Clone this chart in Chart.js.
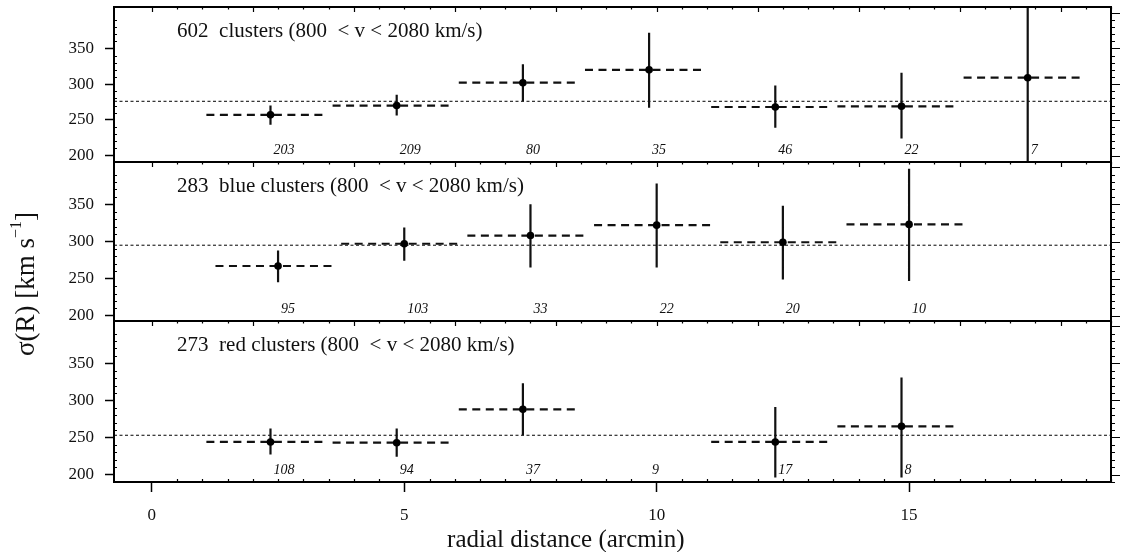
<!DOCTYPE html>
<html>
<head>
<meta charset="utf-8">
<title>sigma(R) vs radial distance</title>
<script src="https://cdn.jsdelivr.net/npm/chart.js@4.4.1/dist/chart.umd.min.js"></script>
<style>
  html, body { margin: 0; padding: 0; background: #fff; }
</style>
</head>
<body>
<canvas id="sigmaChart" width="1121" height="552"></canvas>
<script>
// all clusters
const allR = [2.35, 4.85, 7.35, 9.85, 12.35, 14.85, 17.35];
const allSigma = [257, 270, 302, 320, 268, 269, 309];
const allLo = [243, 256, 276, 267, 239, 224, 150];
const allHi = [270, 285, 328, 372, 298, 316, 470];
const allN = [203, 209, 80, 35, 46, 22, 7];
const allBinLo = [1.08, 3.58, 6.08, 8.58, 11.08, 13.58, 16.08];
const allBinHi = [3.48, 5.98, 8.48, 10.98, 13.48, 15.98, 18.48];
const allMean = 276;

// blue clusters
const blueR = [2.5, 5.0, 7.5, 10.0, 12.5, 15.0];
const blueSigma = [267, 297, 308, 322, 299, 323];
const blueLo = [245, 274, 265, 265, 249, 247];
const blueHi = [288, 319, 350, 378, 348, 398];
const blueN = [95, 103, 33, 22, 20, 10];
const blueBinLo = [1.26, 3.75, 6.25, 8.76, 11.26, 13.76];
const blueBinHi = [3.64, 6.15, 8.63, 11.14, 13.64, 16.14];
const blueMean = 295;

// red clusters (the 9-object bin has no sigma point)
const redR = [2.35, 4.85, 7.35, 9.85, 12.35, 14.85];
const redSigma = [244, 243, 288, null, 244, 265];
const redLo = [227, 224, 253, null, 196, 196];
const redHi = [262, 262, 323, null, 291, 331];
const redN = [108, 94, 37, 9, 17, 8];
const redBinLo = [1.08, 3.58, 6.08, null, 11.08, 13.58];
const redBinHi = [3.47, 5.97, 8.47, null, 13.47, 15.97];
const redMean = 253;

const xTicks = [0, 5, 10, 15];
const yTicks = [200, 250, 300, 350];
const titles = [
  "602  clusters (800  < v < 2080 km/s)",
  "283  blue clusters (800  < v < 2080 km/s)",
  "273  red clusters (800  < v < 2080 km/s)"
];

const X_MIN = -0.75, X_MAX = 19;
const FONT = "'Liberation Serif', 'DejaVu Serif', serif";

const panels = [
  { id: "yAll", r: allR, s: allSigma, lo: allLo, hi: allHi, n: allN, bLo: allBinLo, bHi: allBinHi, mean: allMean, min: 191, max: 408, h: 155, w: 3 },
  { id: "yBlue", r: blueR, s: blueSigma, lo: blueLo, hi: blueHi, n: blueN, bLo: blueBinLo, bHi: blueBinHi, mean: blueMean, min: 193, max: 407, h: 159, w: 2 },
  { id: "yRed", r: redR, s: redSigma, lo: redLo, hi: redHi, n: redN, bLo: redBinLo, bHi: redBinHi, mean: redMean, min: 190, max: 407, h: 161, w: 1 }
];
panels.forEach((p, k) => p.title = titles[k]);

// datasets: points first so they sit on top
const pointSets = [], lineSets = [];
panels.forEach(p => {
  const pts = [], bars = [], bins = [];
  p.r.forEach((r, i) => {
    if (p.s[i] == null) return;
    pts.push({ x: r, y: p.s[i] });
    bars.push({ x: r, y: Math.max(p.lo[i], p.min) }, { x: r, y: Math.min(p.hi[i], p.max) }, { x: r, y: null });
    bins.push({ x: p.bLo[i], y: p.s[i] }, { x: p.bHi[i], y: p.s[i] }, { x: p.bHi[i], y: null });
  });
  pointSets.push({ data: pts, yAxisID: p.id, pointRadius: 3.8, pointBackgroundColor: "#000", pointBorderWidth: 0 });
  lineSets.push({ data: bars, yAxisID: p.id, showLine: true, spanGaps: false, borderColor: "#111", borderWidth: 2.2, pointRadius: 0 });
  lineSets.push({ data: bins, yAxisID: p.id, showLine: true, spanGaps: false, borderColor: "#111", borderWidth: 2.2, borderDash: [8, 5.5], pointRadius: 0 });
  lineSets.push({ data: [{ x: X_MIN, y: p.mean }, { x: X_MAX, y: p.mean }], yAxisID: p.id, showLine: true, borderColor: "#000", borderWidth: 1, borderDash: [3, 2.5], pointRadius: 0 });
});

// y axes stacked in one column
const yScales = {};
panels.forEach(p => {
  yScales[p.id] = {
    type: "linear",
    position: "left",
    stack: "panels",
    stackWeight: p.h,
    weight: p.w,
    min: p.min,
    max: p.max,
    afterBuildTicks: ax => { ax.ticks = yTicks.map(v => ({ value: v })); },
    afterFit: ax => { ax.width = 114; ax.paddingTop = 0; ax.paddingBottom = 0; },
    grid: { drawOnChartArea: false, drawTicks: true, tickLength: 9, tickWidth: 1.5, tickColor: "#000" },
    border: { display: false },
    ticks: { color: "#111", font: { size: 17, family: FONT }, padding: 11 }
  };
});

// frames, inner ticks, titles, counts, axis labels
const panelDecor = {
  id: "panelDecor",
  afterDatasetsDraw(chart) {
    const ctx = chart.ctx;
    const xs = chart.scales.x;
    const left = chart.chartArea.left, right = chart.chartArea.right;
    ctx.save();
    ctx.strokeStyle = "#000";
    ctx.fillStyle = "#111";

    panels.forEach(p => {
      const ys = chart.scales[p.id];
      const top = ys.top, bottom = ys.bottom;
      ctx.lineWidth = 1.2;
      ctx.beginPath();
      // x ticks along the top of each panel
      for (let v = 0; v <= X_MAX; v += 0.5) {
        const px = Math.round(xs.getPixelForValue(v)) + 0.5;
        ctx.moveTo(px, top);
        ctx.lineTo(px, top + (v % 2 === 0 ? 5 : 2.5));
      }
      // y minor ticks inside left, all ticks outside right
      for (let v = Math.ceil(p.min / 10) * 10; v <= p.max; v += 10) {
        const py = Math.round(ys.getPixelForValue(v)) + 0.5;
        const major = v % 50 === 0;
        if (!major) { ctx.moveTo(left, py); ctx.lineTo(left + 3, py); }
        ctx.moveTo(right, py);
        ctx.lineTo(right + (major ? 9 : 4), py);
      }
      ctx.stroke();

      ctx.lineWidth = 2;
      ctx.strokeRect(left, top, right - left, bottom - top);

      ctx.textAlign = "left";
      ctx.textBaseline = "middle";
      ctx.font = "21px " + FONT;
      ctx.fillText(p.title, xs.getPixelForValue(0.5), top + 24);

      ctx.font = "italic 14px " + FONT;
      p.r.forEach((r, i) => {
        ctx.fillText(String(p.n[i]), xs.getPixelForValue(r) + 3, bottom - 12);
      });
    });

    // minor ticks pointing up from the bottom axis
    const base = chart.chartArea.bottom;
    ctx.lineWidth = 1.2;
    ctx.beginPath();
    for (let v = 0.5; v <= X_MAX; v += 0.5) {
      if (v % 5 === 0) continue;
      const px = Math.round(xs.getPixelForValue(v)) + 0.5;
      ctx.moveTo(px, base);
      ctx.lineTo(px, base - 3);
    }
    ctx.stroke();

    // x axis title
    ctx.font = "25px " + FONT;
    ctx.textAlign = "center";
    ctx.textBaseline = "middle";
    ctx.fillText("radial distance (arcmin)", xs.getPixelForValue(8.2), 540);

    // y axis title with superscript
    const main = "\u03c3(R) [km s", sup = "\u22121", end = "]";
    const bigFont = "27px " + FONT, smallFont = "16px " + FONT;
    ctx.font = bigFont;
    const wMain = ctx.measureText(main).width, wEnd = ctx.measureText(end).width;
    ctx.font = smallFont;
    const wSup = ctx.measureText(sup).width;
    const total = wMain + wSup + wEnd;
    ctx.translate(27, 284);
    ctx.rotate(-Math.PI / 2);
    ctx.textAlign = "left";
    let x0 = -total / 2;
    ctx.font = bigFont;
    ctx.fillText(main, x0, 0);
    ctx.font = smallFont;
    ctx.fillText(sup, x0 + wMain, -10);
    ctx.font = bigFont;
    ctx.fillText(end, x0 + wMain + wSup, 0);
    ctx.restore();
  }
};

const ctx = document.getElementById("sigmaChart").getContext("2d");
new Chart(ctx, {
  type: "scatter",
  data: { datasets: pointSets.concat(lineSets) },
  options: {
    responsive: false,
    animation: false,
    layout: { padding: { top: 7, right: 10, left: 0, bottom: 0 } },
    plugins: { legend: { display: false }, tooltip: { enabled: false } },
    scales: Object.assign({
      x: {
        type: "linear",
        position: "bottom",
        min: X_MIN,
        max: X_MAX,
        afterBuildTicks: ax => { ax.ticks = xTicks.map(v => ({ value: v })); },
        afterFit: ax => { ax.height = 70; ax.paddingLeft = 0; ax.paddingRight = 0; },
        grid: { drawOnChartArea: false, drawTicks: true, tickLength: 10, tickWidth: 1.5, tickColor: "#000" },
        border: { display: false },
        ticks: { color: "#111", font: { size: 17, family: FONT }, padding: 13, maxRotation: 0 }
      }
    }, yScales)
  },
  plugins: [panelDecor]
});
</script>
</body>
</html>
